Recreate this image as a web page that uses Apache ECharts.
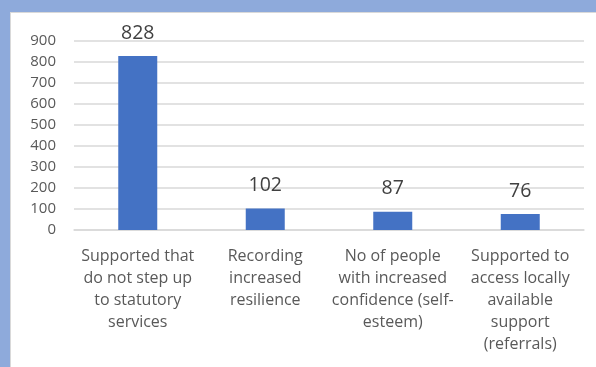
<!DOCTYPE html>
<html>
<head>
<meta charset="utf-8">
<script src="https://cdn.jsdelivr.net/npm/echarts@6/dist/echarts.min.js"></script>
<style>
html, body { margin: 0; padding: 0; }
body { width: 596px; height: 367px; background: #8eaadb; position: relative; overflow: hidden; }
#frame { position: absolute; left: 10px; top: 12px; right: 0; bottom: 0; background: #fff; border-left: 1px solid #d9d9d9; border-top: 1px solid #d9d9d9; }
#chart { position: absolute; left: 0; top: 0; width: 596px; height: 367px; }
</style>
</head>
<body>
<div id="frame"></div>
<div id="chart"></div>
<script>
// categories and values
var category_names = [
	"Supported that\ndo not step up\nto statutory\nservices",
	"Recording\nincreased\nresilience",
	"No of people\nwith increased\nconfidence (self-\nesteem)",
	"Supported to\naccess locally\navailable\nsupport\n(referrals)"
];
var people_count = [828, 102, 87, 76];

var font_family = "'Open Sans', 'Noto Sans', sans-serif";
var narrow_family = "'Liberation Sans Narrow', 'Open Sans', sans-serif";
var myChart = echarts.init(document.getElementById("chart"));
var option = {
	backgroundColor: "transparent",
	animation: false,
	grid: {
		left: 74,
		right: 12,
		top: 41,
		bottom: 137
	},
	xAxis: {
		type: "category",
		data: category_names,
		axisLine: { show: true, lineStyle: { color: "#d9d9d9", width: 1.5 } },
		axisTick: { show: false },
		axisLabel: {
			interval: 0,
			color: "#595959",
			fontSize: 16,
			fontFamily: font_family,
			lineHeight: 22,
			margin: 15
		}
	},
	yAxis: {
		type: "value",
		min: 0,
		max: 900,
		interval: 100,
		axisLine: { show: false },
		axisTick: { show: false },
		splitLine: { lineStyle: { color: "#d9d9d9", width: 1.5 } },
		axisLabel: {
			color: "#595959",
			fontSize: 15,
			fontFamily: narrow_family,
			margin: 18
		}
	},
	series: [{
		type: "bar",
		data: people_count,
		barWidth: 39,
		itemStyle: { color: "#4472c4" },
		label: {
			show: true,
			position: "top",
			distance: 13,
			color: "#404040",
			fontSize: 19.5,
			fontFamily: font_family
		}
	}]
};
myChart.setOption(option, true);
</script>
</body>
</html>
